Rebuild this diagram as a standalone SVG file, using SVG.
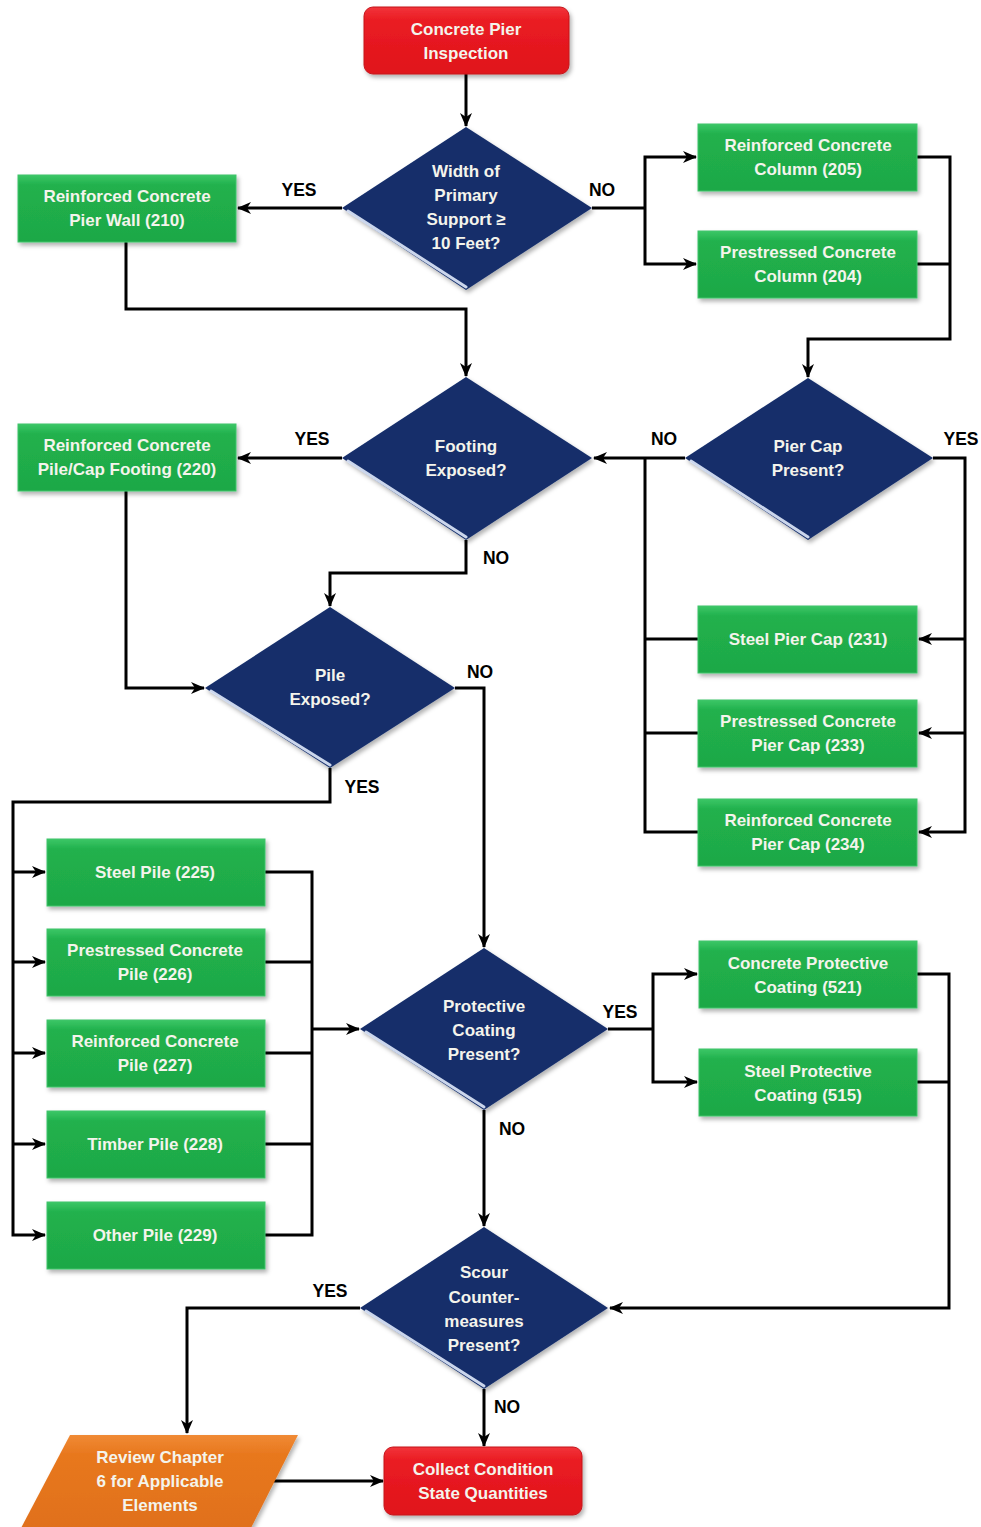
<svg xmlns="http://www.w3.org/2000/svg" width="981" height="1527" viewBox="0 0 981 1527">
<defs>
<style>
.conn{fill:none;stroke:#000;stroke-width:3;stroke-linejoin:miter}
.green{fill:url(#gGreen);stroke:#3fc46a;stroke-width:1;filter:url(#sh)}
.red{fill:url(#gRed);stroke:#c4141b;stroke-width:1;filter:url(#sh)}
.orange{fill:url(#gOrange);filter:url(#sh)}
.dia{fill:#152f6b;filter:url(#sh)}
.bevel{fill:none;stroke:#dfe9fb;stroke-width:3;stroke-linecap:round;opacity:0.9}
.t{font-family:"Liberation Sans",Arial,sans-serif;font-weight:bold;font-size:17px;fill:#f4f4ec;text-anchor:middle}
.lbl{font-family:"Liberation Sans",Arial,sans-serif;font-weight:bold;font-size:17.5px;fill:#000;text-anchor:middle}
</style>
<linearGradient id="gGreen" x1="0" y1="0" x2="0" y2="1">
<stop offset="0" stop-color="#3cc766"/><stop offset="0.15" stop-color="#21b14d"/><stop offset="1" stop-color="#1ea846"/>
</linearGradient>
<linearGradient id="gRed" x1="0" y1="0" x2="0" y2="1">
<stop offset="0" stop-color="#f2343a"/><stop offset="0.2" stop-color="#ea1c23"/><stop offset="1" stop-color="#e0141b"/>
</linearGradient>
<linearGradient id="gOrange" x1="0" y1="0" x2="0" y2="1">
<stop offset="0" stop-color="#f08a35"/><stop offset="0.2" stop-color="#e8781e"/><stop offset="1" stop-color="#e0701a"/>
</linearGradient>
<filter id="sh" x="-10%" y="-10%" width="125%" height="130%">
<feDropShadow dx="2" dy="3" stdDeviation="2" flood-color="#000" flood-opacity="0.3"/>
</filter>
<marker id="ah" viewBox="0 0 14 14" markerWidth="14" markerHeight="14" refX="13" refY="7" orient="auto" markerUnits="userSpaceOnUse">
<path d="M0,1 L14,7 L0,13 L4,7 z" fill="#000"/>
</marker>
</defs>
<rect width="981" height="1527" fill="#ffffff"/>

<g id="connectors">
<path class="conn" d="M466,74 V126" marker-end="url(#ah)"/>
<path class="conn" d="M342,208 H238" marker-end="url(#ah)"/>
<path class="conn" d="M592,208 H645"/>
<path class="conn" d="M645,208 V157 H696" marker-end="url(#ah)"/>
<path class="conn" d="M645,208 V264 H696" marker-end="url(#ah)"/>
<path class="conn" d="M917,157 H950 V339 H808 V377" marker-end="url(#ah)"/>
<path class="conn" d="M917,264 H950"/>
<path class="conn" d="M126,242 V309 H466 V376" marker-end="url(#ah)"/>
<path class="conn" d="M342,458 H238" marker-end="url(#ah)"/>
<path class="conn" d="M685,458 H594" marker-end="url(#ah)"/>
<path class="conn" d="M645,458 V832 H698"/>
<path class="conn" d="M645,639 H698"/>
<path class="conn" d="M645,733 H698"/>
<path class="conn" d="M933,458 H965 V832 H919" marker-end="url(#ah)"/>
<path class="conn" d="M965,639 H919" marker-end="url(#ah)"/>
<path class="conn" d="M965,733 H919" marker-end="url(#ah)"/>
<path class="conn" d="M466,540 V573 H330 V606" marker-end="url(#ah)"/>
<path class="conn" d="M126,491 V688 H204" marker-end="url(#ah)"/>
<path class="conn" d="M455,688 H484 V947" marker-end="url(#ah)"/>
<path class="conn" d="M330,768 V802 H13 V1235 H45" marker-end="url(#ah)"/>
<path class="conn" d="M13,872 H45" marker-end="url(#ah)"/>
<path class="conn" d="M13,962 H45" marker-end="url(#ah)"/>
<path class="conn" d="M13,1053 H45" marker-end="url(#ah)"/>
<path class="conn" d="M13,1144 H45" marker-end="url(#ah)"/>
<path class="conn" d="M265,872 H312 V1235 H265"/>
<path class="conn" d="M265,962 H312"/>
<path class="conn" d="M265,1053 H312"/>
<path class="conn" d="M265,1144 H312"/>
<path class="conn" d="M312,1029 H359" marker-end="url(#ah)"/>
<path class="conn" d="M608,1029 H653"/>
<path class="conn" d="M653,1029 V974 H697" marker-end="url(#ah)"/>
<path class="conn" d="M653,1029 V1082 H697" marker-end="url(#ah)"/>
<path class="conn" d="M917,974 H949 V1308 H610" marker-end="url(#ah)"/>
<path class="conn" d="M917,1082 H949"/>
<path class="conn" d="M484,1110 V1226" marker-end="url(#ah)"/>
<path class="conn" d="M360,1308 H187 V1433" marker-end="url(#ah)"/>
<path class="conn" d="M484,1389 V1446" marker-end="url(#ah)"/>
<path class="conn" d="M270,1481 H383" marker-end="url(#ah)"/>
</g>

<g id="labels">
<text class="lbl" x="299" y="196">YES</text>
<text class="lbl" x="602" y="196">NO</text>
<text class="lbl" x="312" y="445">YES</text>
<text class="lbl" x="664" y="445">NO</text>
<text class="lbl" x="961" y="445">YES</text>
<text class="lbl" x="496" y="564">NO</text>
<text class="lbl" x="480" y="678">NO</text>
<text class="lbl" x="362" y="793">YES</text>
<text class="lbl" x="620" y="1018">YES</text>
<text class="lbl" x="512" y="1135">NO</text>
<text class="lbl" x="330" y="1297">YES</text>
<text class="lbl" x="507" y="1413">NO</text>
</g>

<g id="start">
<rect class="red" x="364" y="7" width="205" height="67" rx="9"/>
<text class="t" x="466" y="35">Concrete Pier</text>
<text class="t" x="466" y="59">Inspection</text>
</g>

<g id="d-width">
<polygon class="dia" points="466,127 592,208 466,290 342,208"/>
<polyline class="bevel" points="348,211 466,287"/>
<text class="t" x="466" y="177">Width of</text>
<text class="t" x="466" y="201">Primary</text>
<text class="t" x="466" y="225">Support ≥</text>
<text class="t" x="466" y="249">10 Feet?</text>
</g>

<g id="n210">
<rect class="green" x="18" y="175" width="218" height="67"/>
<text class="t" x="127" y="202">Reinforced Concrete</text>
<text class="t" x="127" y="226">Pier Wall (210)</text>
</g>

<g id="n205">
<rect class="green" x="698" y="124" width="219" height="67"/>
<text class="t" x="808" y="151">Reinforced Concrete</text>
<text class="t" x="808" y="175">Column (205)</text>
</g>

<g id="n204">
<rect class="green" x="698" y="231" width="219" height="67"/>
<text class="t" x="808" y="258">Prestressed Concrete</text>
<text class="t" x="808" y="282">Column (204)</text>
</g>

<g id="d-footing">
<polygon class="dia" points="466,377 592,458 466,540 342,458"/>
<polyline class="bevel" points="348,461 466,537"/>
<text class="t" x="466" y="452">Footing</text>
<text class="t" x="466" y="476">Exposed?</text>
</g>

<g id="d-piercap">
<polygon class="dia" points="808,378 933,458 808,540 685,458"/>
<polyline class="bevel" points="691,461 808,537"/>
<text class="t" x="808" y="452">Pier Cap</text>
<text class="t" x="808" y="476">Present?</text>
</g>

<g id="n220">
<rect class="green" x="18" y="424" width="218" height="67"/>
<text class="t" x="127" y="451">Reinforced Concrete</text>
<text class="t" x="127" y="475">Pile/Cap Footing (220)</text>
</g>

<g id="n231">
<rect class="green" x="698" y="606" width="219" height="67"/>
<text class="t" x="808" y="645">Steel Pier Cap (231)</text>
</g>

<g id="n233">
<rect class="green" x="698" y="700" width="219" height="67"/>
<text class="t" x="808" y="727">Prestressed Concrete</text>
<text class="t" x="808" y="751">Pier Cap (233)</text>
</g>

<g id="n234">
<rect class="green" x="698" y="799" width="219" height="67"/>
<text class="t" x="808" y="826">Reinforced Concrete</text>
<text class="t" x="808" y="850">Pier Cap (234)</text>
</g>

<g id="d-pile">
<polygon class="dia" points="330,607 455,688 330,768 205,688"/>
<polyline class="bevel" points="211,691 330,765"/>
<text class="t" x="330" y="681">Pile</text>
<text class="t" x="330" y="705">Exposed?</text>
</g>

<g id="n225">
<rect class="green" x="47" y="839" width="218" height="67"/>
<text class="t" x="155" y="878">Steel Pile (225)</text>
</g>

<g id="n226">
<rect class="green" x="47" y="929" width="218" height="67"/>
<text class="t" x="155" y="956">Prestressed Concrete</text>
<text class="t" x="155" y="980">Pile (226)</text>
</g>

<g id="n227">
<rect class="green" x="47" y="1020" width="218" height="67"/>
<text class="t" x="155" y="1047">Reinforced Concrete</text>
<text class="t" x="155" y="1071">Pile (227)</text>
</g>

<g id="n228">
<rect class="green" x="47" y="1111" width="218" height="67"/>
<text class="t" x="155" y="1150">Timber Pile (228)</text>
</g>

<g id="n229">
<rect class="green" x="47" y="1202" width="218" height="67"/>
<text class="t" x="155" y="1241">Other Pile (229)</text>
</g>

<g id="d-coating">
<polygon class="dia" points="484,948 608,1029 484,1110 360,1029"/>
<polyline class="bevel" points="366,1032 484,1107"/>
<text class="t" x="484" y="1012">Protective</text>
<text class="t" x="484" y="1036">Coating</text>
<text class="t" x="484" y="1060">Present?</text>
</g>

<g id="n521">
<rect class="green" x="699" y="941" width="218" height="67"/>
<text class="t" x="808" y="969">Concrete Protective</text>
<text class="t" x="808" y="993">Coating (521)</text>
</g>

<g id="n515">
<rect class="green" x="699" y="1049" width="218" height="67"/>
<text class="t" x="808" y="1077">Steel Protective</text>
<text class="t" x="808" y="1101">Coating (515)</text>
</g>

<g id="d-scour">
<polygon class="dia" points="484,1227 608,1308 484,1389 360,1308"/>
<polyline class="bevel" points="366,1311 484,1386"/>
<text class="t" x="484" y="1278">Scour</text>
<text class="t" x="484" y="1303">Counter-</text>
<text class="t" x="484" y="1327">measures</text>
<text class="t" x="484" y="1351">Present?</text>
</g>

<g id="review">
<polygon class="orange" points="70,1435 298,1435 250,1530 20,1530"/>
<text class="t" x="160" y="1463">Review Chapter</text>
<text class="t" x="160" y="1487">6 for Applicable</text>
<text class="t" x="160" y="1511">Elements</text>
</g>

<g id="collect">
<rect class="red" x="384" y="1447" width="198" height="68" rx="9"/>
<text class="t" x="483" y="1475">Collect Condition</text>
<text class="t" x="483" y="1499">State Quantities</text>
</g>
</svg>
